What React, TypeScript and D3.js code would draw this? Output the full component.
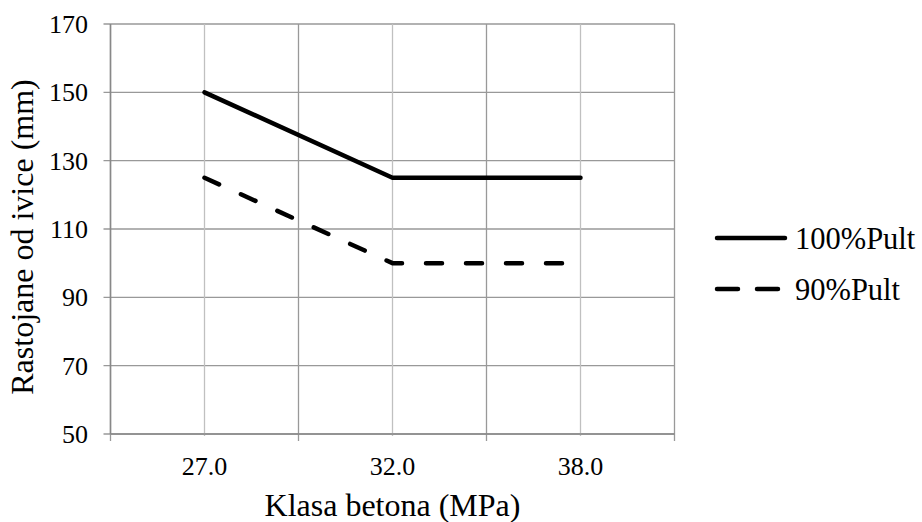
import React from "react";
import * as d3 from "d3";

const categories = ["27.0", "32.0", "38.0"];
const seriesNames = ["100%Pult", "90%Pult"];
const series100 = [150, 125, 125];
const series90 = [125, 100, 100];
const yTicks = [50, 70, 90, 110, 130, 150, 170];

const W = 922;
const H = 522;
const M = { left: 110.5, right: 674.5, top: 24, bottom: 434 };
const FONT = "Times New Roman";

export default function App() {
  const x = d3.scaleBand<string>().domain(categories).range([M.left, M.right]).padding(0);
  const y = d3.scaleLinear().domain([50, 170]).range([M.bottom, M.top]);
  const line = d3
    .line<number>()
    .x((_, i) => (x(categories[i]) as number) + x.bandwidth() / 2)
    .y((d) => y(d));
  const bounds = categories.map((c) => x(c) as number).concat([M.right]);
  const data = [
    { name: seriesNames[0], values: series100, dash: "none", legendDash: "none" },
    { name: seriesNames[1], values: series90, dash: "16 24", legendDash: "21 19" },
  ];
  return (
    <svg width={W} height={H} style={{ position: "absolute", left: 0, top: 0, background: "#fff" }}>
      {yTicks.map((t) => (
        <line key={"h" + t} x1={M.left - 7} x2={M.right} y1={y(t)} y2={y(t)} stroke="#999" strokeWidth={1.3} />
      ))}
      {categories.map((c) => (
        <line
          key={"c" + c}
          x1={(x(c) as number) + x.bandwidth() / 2}
          x2={(x(c) as number) + x.bandwidth() / 2}
          y1={M.top}
          y2={M.bottom + 2}
          stroke="#c0c0c0"
          strokeWidth={1.3}
        />
      ))}
      {bounds.map((b, i) => (
        <line key={"b" + i} x1={b} x2={b} y1={M.top} y2={M.bottom + 7} stroke="#999" strokeWidth={1.3} />
      ))}
      <line x1={M.left} x2={M.right} y1={M.bottom} y2={M.bottom} stroke="#888" strokeWidth={1.5} />
      <line x1={M.left} x2={M.left} y1={M.top} y2={M.bottom} stroke="#888" strokeWidth={1.5} />
      {yTicks.map((t) => (
        <text key={"yl" + t} x={88} y={y(t) + 9} textAnchor="end" fontSize={26} style={{ fontFamily: FONT }} fill="#000">
          {t}
        </text>
      ))}
      {categories.map((c) => (
        <text
          key={"xl" + c}
          x={(x(c) as number) + x.bandwidth() / 2}
          y={475}
          textAnchor="middle"
          fontSize={26}
          style={{ fontFamily: FONT }}
          fill="#000"
        >
          {c}
        </text>
      ))}
      {data.map((s) => (
        <path
          key={s.name}
          d={line(s.values) as string}
          fill="none"
          stroke="#000"
          strokeWidth={4.5}
          strokeDasharray={s.dash}
          strokeLinecap="round"
          strokeLinejoin="round"
        />
      ))}
      <text x={(M.left + M.right) / 2} y={516} textAnchor="middle" fontSize={32} style={{ fontFamily: FONT }} fill="#000">
        Klasa betona (MPa)
      </text>
      <text
        transform="translate(33, 237) rotate(-90)"
        textAnchor="middle"
        fontSize={32}
        style={{ fontFamily: FONT }}
        fill="#000"
      >
        Rastojane od ivice (mm)
      </text>
      {data.map((s, i) => (
        <g key={"lg" + s.name} transform={`translate(0, ${238 + i * 51})`}>
          <line
            x1={717}
            x2={i === 0 ? 785 : 778}
            y1={0}
            y2={0}
            stroke="#000"
            strokeWidth={4.5}
            strokeDasharray={s.legendDash}
            strokeLinecap="round"
          />
          <text x={795} y={10.5} fontSize={30.5} style={{ fontFamily: FONT }} fill="#000">
            {s.name}
          </text>
        </g>
      ))}
    </svg>
  );
}
